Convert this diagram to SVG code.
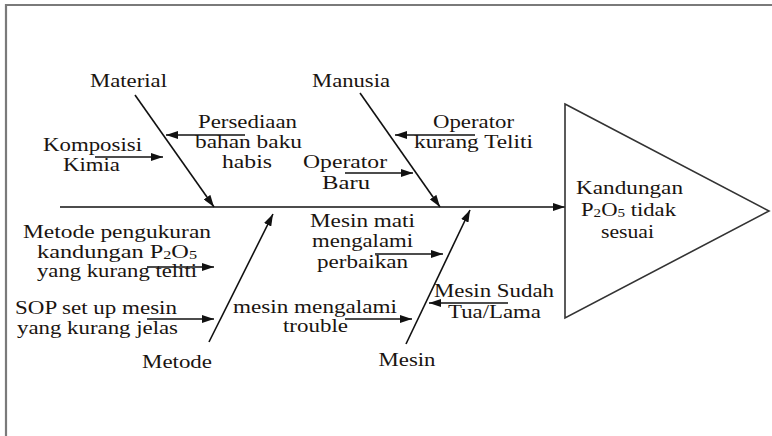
<svg xmlns="http://www.w3.org/2000/svg" width="772" height="436" viewBox="0 0 772 436">
<defs>
<marker id="ah" viewBox="0 0 12 8" refX="12" refY="4" markerWidth="12" markerHeight="8" markerUnits="userSpaceOnUse" orient="auto"><path d="M0,0 L12,4 L0,8 z" fill="#111"/></marker>
<style>
text{font-family:"Liberation Serif","Times New Roman",serif;font-size:18px;fill:#1a1410;text-anchor:middle}
.sub{font-size:12px}
.c{stroke:#111;stroke-width:1.6;fill:none}
.a{marker-end:url(#ah)}
</style>
</defs>
<rect x="0" y="0" width="772" height="436" fill="#fff"/>
<path d="M6,436 V5 H772" fill="none" stroke="#7a7a7a" stroke-width="2.2"/>
<g id="connectors">
<line class="c a" x1="60" y1="207" x2="565" y2="207"/>
<line class="c a" x1="135" y1="95" x2="214" y2="207"/>
<line class="c a" x1="360" y1="93" x2="440" y2="207"/>
<line class="c a" x1="209" y1="342" x2="273" y2="214"/>
<line class="c a" x1="406" y1="344" x2="470" y2="210"/>
<line class="c a" x1="245" y1="135" x2="166" y2="135"/>
<line class="c a" x1="95" y1="157" x2="163" y2="157"/>
<line class="c a" x1="475" y1="135" x2="395" y2="135"/>
<line class="c a" x1="345" y1="173" x2="413" y2="173"/>
<line class="c a" x1="147" y1="267" x2="214" y2="267"/>
<line class="c a" x1="147" y1="319" x2="214" y2="319"/>
<line class="c a" x1="375" y1="254" x2="443" y2="254"/>
<line class="c a" x1="345" y1="319" x2="412" y2="319"/>
<line class="c a" x1="508" y1="303" x2="429" y2="303"/>
</g>
<g id="effect">
<polygon points="565,104 769,211 565,318" fill="#fff" stroke="#333" stroke-width="1.6"/>
<text x="629.5" y="194" textLength="107" lengthAdjust="spacingAndGlyphs">Kandungan</text>
<text x="628.5" y="216" textLength="95" lengthAdjust="spacingAndGlyphs">P<tspan class="sub" dy="1">2</tspan><tspan dy="-1">O</tspan><tspan class="sub" dy="1">5</tspan><tspan dy="-1"> tidak</tspan></text>
<text x="627.5" y="238" textLength="53" lengthAdjust="spacingAndGlyphs">sesuai</text>
</g>
<g id="material">
<text x="128.5" y="87" textLength="77" lengthAdjust="spacingAndGlyphs">Material</text>
</g>
<g id="persediaan">
<text x="247.5" y="128" textLength="99" lengthAdjust="spacingAndGlyphs">Persediaan</text>
<text x="248.5" y="148" textLength="107" lengthAdjust="spacingAndGlyphs">bahan baku</text>
<text x="247" y="168" textLength="50" lengthAdjust="spacingAndGlyphs">habis</text>
</g>
<g id="komposisi">
<text x="92.5" y="151" textLength="99" lengthAdjust="spacingAndGlyphs">Komposisi</text>
<text x="91.5" y="171" textLength="57" lengthAdjust="spacingAndGlyphs">Kimia</text>
</g>
<g id="manusia">
<text x="351" y="87" textLength="78" lengthAdjust="spacingAndGlyphs">Manusia</text>
</g>
<g id="operator-teliti">
<text x="473.5" y="128" textLength="81" lengthAdjust="spacingAndGlyphs">Operator</text>
<text x="473.5" y="148" textLength="119" lengthAdjust="spacingAndGlyphs">kurang Teliti</text>
</g>
<g id="operator-baru">
<text x="345" y="168" textLength="84" lengthAdjust="spacingAndGlyphs">Operator</text>
<text x="346" y="189" textLength="48" lengthAdjust="spacingAndGlyphs">Baru</text>
</g>
<g id="metode-pengukuran">
<text x="117" y="238" textLength="188" lengthAdjust="spacingAndGlyphs">Metode pengukuran</text>
<text x="117" y="258" textLength="160" lengthAdjust="spacingAndGlyphs">kandungan  P<tspan class="sub" dy="1">2</tspan><tspan dy="-1">O</tspan><tspan class="sub" dy="1">5</tspan></text>
<text x="117" y="277" textLength="160" lengthAdjust="spacingAndGlyphs">yang kurang teliti</text>
</g>
<g id="sop">
<text x="96" y="314" textLength="162" lengthAdjust="spacingAndGlyphs">SOP set up mesin</text>
<text x="97.5" y="334" textLength="161" lengthAdjust="spacingAndGlyphs">yang kurang jelas</text>
</g>
<g id="metode">
<text x="177" y="368" textLength="70" lengthAdjust="spacingAndGlyphs">Metode</text>
</g>
<g id="mesin-mati">
<text x="362.5" y="227" textLength="105" lengthAdjust="spacingAndGlyphs">Mesin mati</text>
<text x="362.5" y="247" textLength="101" lengthAdjust="spacingAndGlyphs">mengalami</text>
<text x="362.5" y="268" textLength="91" lengthAdjust="spacingAndGlyphs">perbaikan</text>
</g>
<g id="mesin-trouble">
<text x="315" y="313" textLength="164" lengthAdjust="spacingAndGlyphs">mesin mengalami</text>
<text x="315.5" y="332" textLength="65" lengthAdjust="spacingAndGlyphs">trouble</text>
</g>
<g id="mesin">
<text x="407" y="366" textLength="57" lengthAdjust="spacingAndGlyphs">Mesin</text>
</g>
<g id="mesin-tua">
<text x="494" y="297" textLength="120" lengthAdjust="spacingAndGlyphs">Mesin Sudah</text>
<text x="494.5" y="318" textLength="93" lengthAdjust="spacingAndGlyphs">Tua/Lama</text>
</g>
</svg>
